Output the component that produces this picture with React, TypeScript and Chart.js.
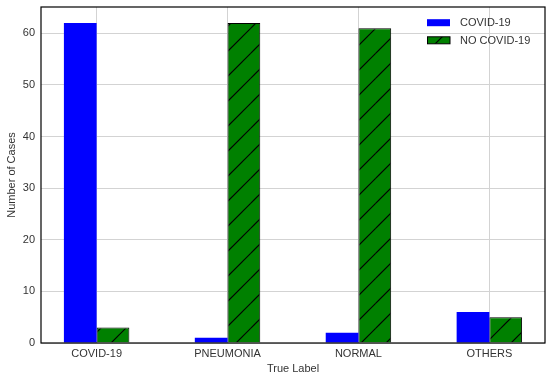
import React, { useEffect, useRef } from "react";
import { Chart, registerables } from "chart.js";

Chart.register(...registerables);

const categories = ["COVID-19", "PNEUMONIA", "NORMAL", "OTHERS"];
const covidValues = [62, 1, 2, 6];
const noCovidValues = [3, 62, 61, 5];
const seriesNames = ["COVID-19", "NO COVID-19"];
const yTicks = [0, 10, 20, 30, 40, 50, 60];

const FONT = "'Liberation Sans', Arial, sans-serif";
const TEXT = "#333333";

function makeHatch(): CanvasPattern | string {
  const c = document.createElement("canvas");
  c.width = 25;
  c.height = 25;
  const g = c.getContext("2d");
  if (!g) return "#008000";
  g.fillStyle = "#008000";
  g.fillRect(0, 0, 25, 25);
  g.strokeStyle = "#000000";
  g.lineWidth = 1.2;
  const off = 4;
  for (const k of [off - 25, off, off + 25, off + 50]) {
    g.beginPath();
    g.moveTo(k + 2, -2);
    g.lineTo(k - 27, 27);
    g.stroke();
  }
  const p = g.createPattern(c, "repeat");
  return p || "#008000";
}

export default function App() {
  const ref = useRef<HTMLCanvasElement | null>(null);
  useEffect(() => {
    if (!ref.current) return;
    const hatch = makeHatch();
    const framePlugin = {
      id: "frame",
      afterDatasetsDraw(chart: any) {
        const { ctx, chartArea } = chart;
        ctx.save();
        ctx.strokeStyle = "#000";
        ctx.lineWidth = 1.2;
        ctx.strokeRect(chartArea.left, chartArea.top, chartArea.right - chartArea.left, chartArea.bottom - chartArea.top);
        ctx.restore();
      },
      afterDraw(chart: any) {
        const { ctx } = chart;
        ctx.save();
        const rows = [
          { name: seriesNames[0], fill: "#0000ff", stroke: null as string | null },
          { name: seriesNames[1], fill: hatch, stroke: "#000" },
        ];
        rows.forEach((r, i) => {
          const cy = 22.7 + i * 17.6;
          ctx.fillStyle = r.fill;
          ctx.fillRect(427, cy - 3.5, 23, 7);
          if (r.stroke) {
            ctx.strokeStyle = r.stroke;
            ctx.lineWidth = 1;
            ctx.strokeRect(427.5, cy - 3.5, 22.5, 7);
          }
          ctx.fillStyle = TEXT;
          ctx.font = `11px ${FONT}`;
          ctx.textBaseline = "middle";
          ctx.textAlign = "left";
          ctx.fillText(r.name, 460, cy + 0.5);
        });
        ctx.restore();
      },
    };
    const chart = new Chart(ref.current, {
      type: "bar",
      data: {
        datasets: [
          {
            label: seriesNames[0],
            data: covidValues.map((v, i) => ({ x: i, y: v })),
            backgroundColor: "#0000ff",
            borderWidth: 0,
            categoryPercentage: 0.5,
            barPercentage: 1,
          },
          {
            label: seriesNames[1],
            data: noCovidValues.map((v, i) => ({ x: i, y: v })),
            backgroundColor: hatch as any,
            borderColor: "#000000",
            borderWidth: 1,
            categoryPercentage: 0.5,
            barPercentage: 1,
          },
        ],
      },
      options: {
        animation: false,
        responsive: false,
        layout: { padding: { top: 7, right: 5, left: 0, bottom: 0 } },
        plugins: { legend: { display: false }, tooltip: { enabled: false } },
        scales: {
          x: {
            type: "linear",
            offset: false,
            min: -0.425,
            max: 3.425,
            afterFit: (s: any) => { s.height = 36; s.paddingLeft = 0; s.paddingRight = 0; },
            afterBuildTicks: (s: any) => { s.ticks = categories.map((_, i) => ({ value: i })); },
            ticks: {
              includeBounds: false,
              stepSize: 1,
              padding: 4,
              color: TEXT,
              font: { family: FONT, size: 11 },
              callback: (v: any) => categories[Math.round(Number(v))] ?? "",
            },
            grid: { color: "#d3d3d3", drawTicks: false, lineWidth: 1, offset: false },
            border: { display: false },
            title: { display: true, text: "True Label", color: TEXT, font: { family: FONT, size: 11 }, padding: { top: 0, bottom: 3 } },
          },
          y: {
            type: "linear",
            min: 0,
            max: 65.1,
            afterFit: (s: any) => { s.width = 41; s.paddingTop = 0; s.paddingBottom = 0; },
            afterBuildTicks: (s: any) => { s.ticks = yTicks.map((v) => ({ value: v })); },
            ticks: {
              includeBounds: false,
              padding: 6,
              color: TEXT,
              font: { family: FONT, size: 11 },
            },
            grid: { color: "#d3d3d3", drawTicks: false, lineWidth: 1 },
            border: { display: false },
            title: { display: true, text: "Number of Cases", color: TEXT, font: { family: FONT, size: 11 }, padding: { top: 5, bottom: 0 } },
          },
        },
      },
      plugins: [framePlugin],
    } as any);
    return () => chart.destroy();
  }, []);
  return (
    <canvas
      ref={ref}
      width={550}
      height={379}
      style={{ position: "absolute", left: 0, top: 0, width: 550, height: 379, background: "#fff" }}
    />
  );
}
